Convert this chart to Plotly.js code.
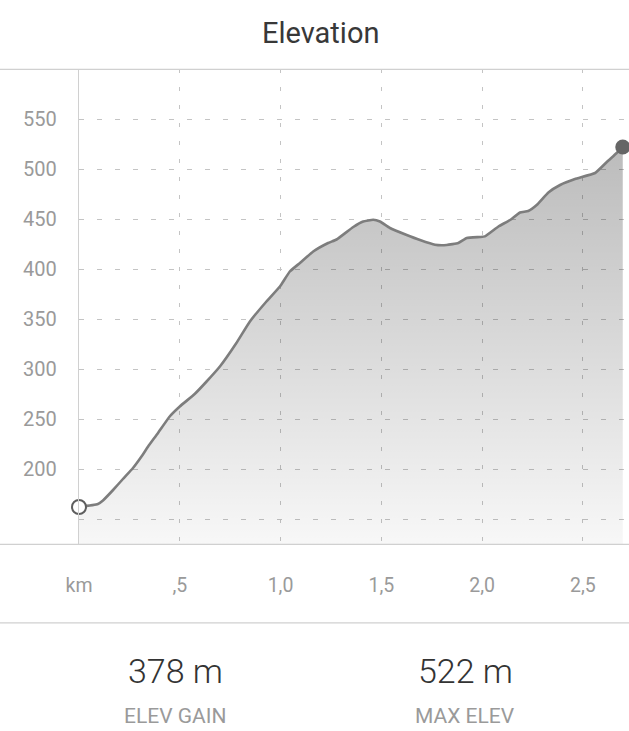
<!DOCTYPE html>
<html>
<head>
<meta charset="utf-8">
<script src="https://cdn.plot.ly/plotly-3.0.1.min.js"></script>
<style>
  html, body { margin: 0; padding: 0; background: #ffffff; }
  #chart { width: 629px; height: 731px; }
</style>
</head>
<body>
<div id="chart"></div>
<script>
// ---- data ----
const distanceKm = [0, 0.094, 0.119, 0.169, 0.218, 0.268, 0.310, 0.343, 0.392, 0.450, 0.500, 0.574, 0.633,
  0.699, 0.781, 0.848, 0.930, 0.997, 1.046, 1.096, 1.162, 1.236, 1.278, 1.361, 1.410, 1.460, 1.493, 1.543,
  1.626, 1.692, 1.766, 1.824, 1.882, 1.924, 1.990, 2.014, 2.081, 2.139, 2.188, 2.229, 2.271, 2.329, 2.387,
  2.461, 2.561, 2.619, 2.668, 2.698];
const elevationM = [162, 165, 168.5, 179, 190, 201, 212.5, 222.5, 236, 252.5, 262.5, 275, 287.5,
  302.5, 326, 347.5, 367.5, 382.5, 397.5, 406, 417.5, 426, 429.5, 442, 447.5, 449.3, 447.5, 441,
  434, 429, 424.3, 424, 426, 431, 432, 432.6, 442.5, 449, 456.5, 458, 464, 476.5, 484,
  490, 496, 507, 516, 522];

const xTickVals = [0, 0.5, 1.0, 1.5, 2.0, 2.5];
const xTickText = ['km', ',5', '1,0', '1,5', '2,0', '2,5'];
const yTickVals = [150, 200, 250, 300, 350, 400, 450, 500, 550];
const yTickText = ['', '200', '250', '300', '350', '400', '450', '500', '550'];

const chartTitle = 'Elevation';
const statValues = ['378 m', '522 m'];
const statLabels = ['ELEV GAIN', 'MAX ELEV'];

// ---- layout helpers ----
const W = 629, H = 731;
const M = { l: 79, r: 0, t: 69, b: 187 };
const plotW = W - M.l - M.r, plotH = H - M.t - M.b;
const px2paperX = px => (px - M.l) / plotW;
const py2paperY = py => (H - M.b - py) / plotH;

const FONT = 'Roboto, "Noto Sans", "DejaVu Sans", sans-serif';
const GRID = '#c4c4c4';
const RULE = '#d0d0d0';

const nLast = distanceKm.length - 1;

const traces = [
  {
    x: distanceKm, y: elevationM, type: 'scatter', mode: 'lines',
    line: { color: '#7d7d7d', width: 2.6, shape: 'spline', smoothing: 0.4 },
    fill: 'tozeroy',
    fillgradient: {
      type: 'vertical', start: 125, stop: 522,
      colorscale: [[0, 'rgba(0,0,0,0.03)'], [1, 'rgba(0,0,0,0.265)']]
    },
    hoverinfo: 'skip', showlegend: false
  },
  {
    x: [distanceKm[0]], y: [elevationM[0]], type: 'scatter', mode: 'markers',
    marker: { size: 14, color: '#ffffff', line: { color: '#5e5e5e', width: 2 } },
    cliponaxis: false, showlegend: false, hoverinfo: 'skip'
  },
  {
    x: [distanceKm[nLast]], y: [elevationM[nLast]], type: 'scatter', mode: 'markers',
    marker: { size: 15, color: '#666666', line: { width: 0 } },
    cliponaxis: false, showlegend: false, hoverinfo: 'skip'
  }
];

const annotations = [
  { text: chartTitle, x: px2paperX(320), xref: 'paper', xanchor: 'center',
    y: py2paperY(33.5), yref: 'paper', yanchor: 'middle', showarrow: false,
    font: { family: FONT, size: 29, color: '#383838' } }
];
[175, 465].forEach((cx, i) => {
  annotations.push({ text: statValues[i], x: px2paperX(cx), xref: 'paper', xanchor: 'center',
    y: py2paperY(671), yref: 'paper', yanchor: 'middle', showarrow: false,
    font: { family: FONT, size: 34, color: '#333333', weight: 300 } });
  annotations.push({ text: statLabels[i], x: px2paperX(cx), xref: 'paper', xanchor: 'center',
    y: py2paperY(716), yref: 'paper', yanchor: 'middle', showarrow: false,
    font: { family: FONT, size: 21, color: '#9a9a9a' } });
});

const fullLine = (py) => ({
  type: 'line', xref: 'paper', yref: 'paper',
  x0: px2paperX(0), x1: px2paperX(W), y0: py2paperY(py), y1: py2paperY(py),
  line: { color: RULE, width: 1.3 }, layer: 'above'
});

const layout = {
  width: W, height: H,
  margin: M,
  paper_bgcolor: '#ffffff', plot_bgcolor: '#ffffff',
  showlegend: false,
  xaxis: {
    range: [0, 2.729], fixedrange: true,
    tickmode: 'array', tickvals: xTickVals, ticktext: xTickText,
    ticks: '', ticklabelstandoff: 27,
    showgrid: true, gridcolor: GRID, gridwidth: 1, griddash: '4px,14px',
    zeroline: false, showline: false,
    tickfont: { family: FONT, size: 19.5, color: '#9a9a9a' }
  },
  yaxis: {
    range: [125, 600], fixedrange: true,
    tickmode: 'array', tickvals: yTickVals, ticktext: yTickText,
    ticks: '', ticklabelstandoff: 17,
    showgrid: true, gridcolor: GRID, gridwidth: 1, griddash: '5px,13px',
    zeroline: false, showline: true, linecolor: RULE, linewidth: 1.3,
    tickfont: { family: FONT, size: 20, color: '#9a9a9a' }
  },
  shapes: [fullLine(69.3), fullLine(544.3), fullLine(622.8)],
  annotations: annotations
};

Plotly.newPlot('chart', traces, layout, { displayModeBar: false, staticPlot: true });
</script>
</body>
</html>
